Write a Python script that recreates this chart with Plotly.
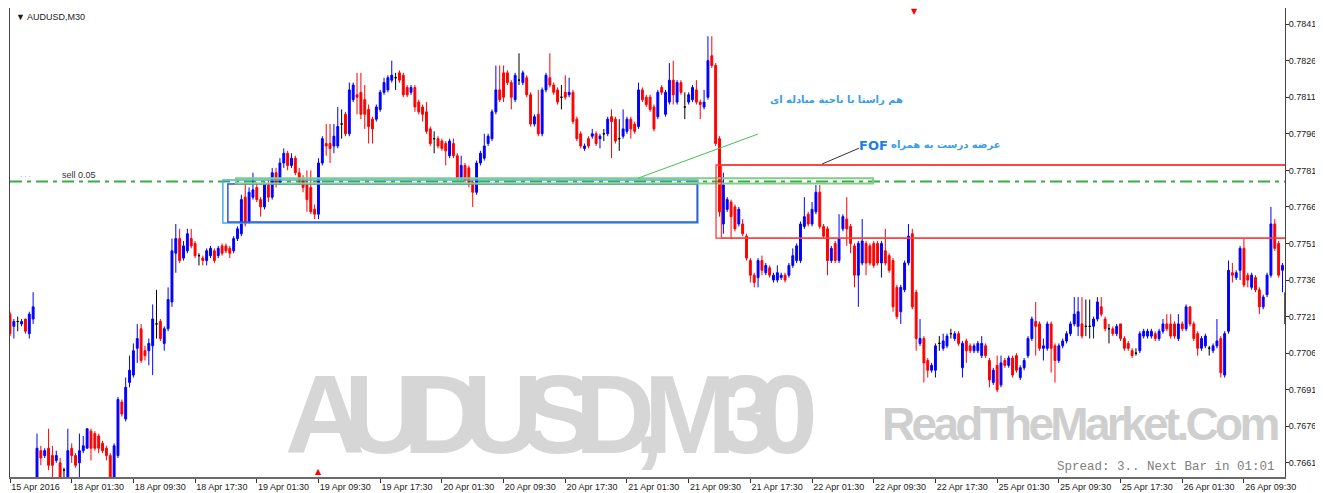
import plotly.graph_objects as go

# ---------------- data (AUDUSD M30, bar index 0..330) ----------------
opens = [
    0.7722, 0.7717, 0.7719, 0.7718, 0.7720, 0.7714, 0.7720, 0.7652, 0.7666, 0.7664,
    0.7667, 0.7664, 0.7662, 0.7661, 0.7658, 0.7655, 0.7667, 0.7664, 0.7661, 0.7666,
    0.7667, 0.7674, 0.7673, 0.7672, 0.7669, 0.7667, 0.7664, 0.7655, 0.7664, 0.7686,
    0.7679, 0.7694, 0.7697, 0.7708, 0.7716, 0.7707, 0.7707, 0.7709, 0.7718, 0.7719,
    0.7710, 0.7716, 0.7727, 0.7747, 0.7753, 0.7745, 0.7748, 0.7753, 0.7751, 0.7746,
    0.7745, 0.7744, 0.7746, 0.7748, 0.7746, 0.7750, 0.7750, 0.7749, 0.7748, 0.7753,
    0.7755, 0.7770, 0.7760, 0.7770, 0.7774, 0.7769, 0.7766, 0.7775, 0.7770, 0.7780,
    0.7776, 0.7784, 0.7788, 0.7783, 0.7786, 0.7780, 0.7777, 0.7775, 0.7774, 0.7765,
    0.7763, 0.7784, 0.7792, 0.7792, 0.7791, 0.7791, 0.7800, 0.7804, 0.7796, 0.7810,
    0.7812, 0.7813, 0.7810, 0.7806, 0.7802, 0.7802, 0.7806, 0.7813, 0.7814, 0.7818,
    0.7819, 0.7821, 0.7820, 0.7815, 0.7813, 0.7815, 0.7809, 0.7807, 0.7805, 0.7798,
    0.7794, 0.7794, 0.7793, 0.7792, 0.7787, 0.7792, 0.7787, 0.7778, 0.7783, 0.7782,
    0.7776, 0.7772, 0.7784, 0.7786, 0.7792, 0.7794, 0.7805, 0.7814, 0.7821, 0.7821,
    0.7817, 0.7810, 0.7818, 0.7817, 0.7819, 0.7812, 0.7800, 0.7804, 0.7796, 0.7814,
    0.7819, 0.7816, 0.7814, 0.7811, 0.7813, 0.7812, 0.7813, 0.7802, 0.7796, 0.7790,
    0.7794, 0.7795, 0.7796, 0.7794, 0.7796, 0.7796, 0.7803, 0.7802, 0.7794, 0.7795,
    0.7797, 0.7802, 0.7800, 0.7799, 0.7814, 0.7811, 0.7811, 0.7807, 0.7803, 0.7815,
    0.7804, 0.7809, 0.7818, 0.7809, 0.7817, 0.7807, 0.7809, 0.7810, 0.7814, 0.7809,
    0.7807, 0.7811, 0.7828, 0.7824, 0.7794, 0.7759, 0.7765, 0.7768, 0.7766, 0.7759,
    0.7759, 0.7754, 0.7744, 0.7738, 0.7737, 0.7744, 0.7739, 0.7741, 0.7736, 0.7736,
    0.7737, 0.7738, 0.7738, 0.7742, 0.7744, 0.7744, 0.7758, 0.7763, 0.7759, 0.7764,
    0.7772, 0.7758, 0.7757, 0.7744, 0.7751, 0.7744, 0.7757, 0.7761, 0.7758, 0.7750,
    0.7738, 0.7743, 0.7751, 0.7750, 0.7751, 0.7751, 0.7743, 0.7748, 0.7746, 0.7744,
    0.7733, 0.7723, 0.7732, 0.7743, 0.7755, 0.7731, 0.7710, 0.7712, 0.7703, 0.7699,
    0.7699, 0.7710, 0.7708, 0.7709, 0.7714, 0.7712, 0.7714, 0.7700, 0.7711, 0.7709,
    0.7707, 0.7707, 0.7705, 0.7709, 0.7703, 0.7694, 0.7701, 0.7693, 0.7703, 0.7701,
    0.7704, 0.7705, 0.7696, 0.7700, 0.7705, 0.7712, 0.7719, 0.7718, 0.7708, 0.7708,
    0.7718, 0.7709, 0.7703, 0.7709, 0.7711, 0.7714, 0.7718, 0.7717, 0.7718, 0.7717,
    0.7717, 0.7717, 0.7720, 0.7725, 0.7720, 0.7716, 0.7716, 0.7714, 0.7718, 0.7712,
    0.7710, 0.7707, 0.7706, 0.7707, 0.7713, 0.7713, 0.7713, 0.7714, 0.7712, 0.7715,
    0.7718, 0.7718, 0.7718, 0.7712, 0.7718, 0.7716, 0.7725, 0.7718, 0.7714, 0.7708,
    0.7709, 0.7708, 0.7707, 0.7709, 0.7712, 0.7697, 0.7715, 0.7739, 0.7737, 0.7740,
    0.7749, 0.7738, 0.7733, 0.7737, 0.7732, 0.7725, 0.7730, 0.7738, 0.7759, 0.7751,
    0.7740,
]
highs = [
    0.7723, 0.7720, 0.7721, 0.7720, 0.7720, 0.7723, 0.7731, 0.7673, 0.7668, 0.7667,
    0.7675, 0.7668, 0.7666, 0.7663, 0.7659, 0.7675, 0.7669, 0.7665, 0.7673, 0.7672,
    0.7675, 0.7675, 0.7674, 0.7673, 0.7670, 0.7668, 0.7665, 0.7669, 0.7688, 0.7687,
    0.7696, 0.7705, 0.7710, 0.7718, 0.7718, 0.7709, 0.7712, 0.7726, 0.7732, 0.7720,
    0.7717, 0.7733, 0.7753, 0.7759, 0.7757, 0.7752, 0.7757, 0.7757, 0.7752, 0.7747,
    0.7746, 0.7749, 0.7750, 0.7749, 0.7750, 0.7751, 0.7751, 0.7750, 0.7754, 0.7758,
    0.7771, 0.7776, 0.7774, 0.7780, 0.7776, 0.7770, 0.7776, 0.7777, 0.7782, 0.7782,
    0.7786, 0.7790, 0.7789, 0.7788, 0.7787, 0.7782, 0.7779, 0.7781, 0.7781, 0.7767,
    0.7786, 0.7795, 0.7800, 0.7800, 0.7800, 0.7807, 0.7806, 0.7805, 0.7817, 0.7817,
    0.7821, 0.7821, 0.7816, 0.7808, 0.7803, 0.7808, 0.7814, 0.7819, 0.7820, 0.7826,
    0.7821, 0.7822, 0.7821, 0.7816, 0.7816, 0.7816, 0.7810, 0.7808, 0.7809, 0.7799,
    0.7797, 0.7795, 0.7794, 0.7793, 0.7794, 0.7794, 0.7788, 0.7787, 0.7784, 0.7783,
    0.7777, 0.7785, 0.7789, 0.7796, 0.7796, 0.7806, 0.7824, 0.7824, 0.7824, 0.7822,
    0.7818, 0.7821, 0.7829, 0.7822, 0.7820, 0.7813, 0.7804, 0.7814, 0.7815, 0.7821,
    0.7829, 0.7817, 0.7815, 0.7816, 0.7820, 0.7819, 0.7814, 0.7803, 0.7797, 0.7792,
    0.7795, 0.7798, 0.7797, 0.7796, 0.7798, 0.7803, 0.7806, 0.7803, 0.7802, 0.7806,
    0.7803, 0.7803, 0.7801, 0.7817, 0.7815, 0.7812, 0.7812, 0.7808, 0.7814, 0.7816,
    0.7814, 0.7825, 0.7826, 0.7818, 0.7818, 0.7813, 0.7813, 0.7816, 0.7818, 0.7810,
    0.7814, 0.7836, 0.7836, 0.7825, 0.7795, 0.7780, 0.7770, 0.7769, 0.7767, 0.7766,
    0.7761, 0.7755, 0.7745, 0.7739, 0.7745, 0.7746, 0.7743, 0.7742, 0.7739, 0.7742,
    0.7739, 0.7739, 0.7743, 0.7749, 0.7751, 0.7760, 0.7770, 0.7764, 0.7768, 0.7775,
    0.7775, 0.7759, 0.7758, 0.7750, 0.7752, 0.7763, 0.7763, 0.7770, 0.7759, 0.7751,
    0.7752, 0.7761, 0.7752, 0.7751, 0.7752, 0.7752, 0.7752, 0.7757, 0.7747, 0.7745,
    0.7734, 0.7734, 0.7744, 0.7759, 0.7757, 0.7732, 0.7720, 0.7713, 0.7704, 0.7702,
    0.7710, 0.7713, 0.7714, 0.7714, 0.7716, 0.7715, 0.7715, 0.7711, 0.7712, 0.7710,
    0.7710, 0.7711, 0.7713, 0.7710, 0.7704, 0.7700, 0.7705, 0.7705, 0.7704, 0.7705,
    0.7705, 0.7706, 0.7701, 0.7704, 0.7713, 0.7721, 0.7727, 0.7719, 0.7712, 0.7719,
    0.7719, 0.7710, 0.7710, 0.7712, 0.7715, 0.7719, 0.7729, 0.7729, 0.7729, 0.7728,
    0.7728, 0.7721, 0.7729, 0.7729, 0.7721, 0.7718, 0.7717, 0.7718, 0.7718, 0.7713,
    0.7711, 0.7708, 0.7708, 0.7715, 0.7716, 0.7716, 0.7716, 0.7715, 0.7716, 0.7720,
    0.7722, 0.7722, 0.7719, 0.7722, 0.7719, 0.7726, 0.7725, 0.7719, 0.7715, 0.7713,
    0.7714, 0.7709, 0.7710, 0.7720, 0.7713, 0.7715, 0.7744, 0.7743, 0.7740, 0.7750,
    0.7753, 0.7739, 0.7739, 0.7738, 0.7733, 0.7730, 0.7739, 0.7766, 0.7761, 0.7752,
    0.7743,
]
lows = [
    0.7713, 0.7712, 0.7715, 0.7717, 0.7714, 0.7712, 0.7718, 0.7650, 0.7660, 0.7663,
    0.7658, 0.7654, 0.7661, 0.7652, 0.7655, 0.7654, 0.7661, 0.7659, 0.7655, 0.7665,
    0.7667, 0.7662, 0.7666, 0.7665, 0.7665, 0.7662, 0.7652, 0.7653, 0.7663, 0.7680,
    0.7678, 0.7692, 0.7696, 0.7702, 0.7702, 0.7703, 0.7701, 0.7697, 0.7712, 0.7711,
    0.7707, 0.7715, 0.7725, 0.7739, 0.7743, 0.7744, 0.7747, 0.7749, 0.7745, 0.7742,
    0.7742, 0.7742, 0.7745, 0.7743, 0.7745, 0.7746, 0.7747, 0.7745, 0.7747, 0.7752,
    0.7754, 0.7758, 0.7759, 0.7769, 0.7768, 0.7762, 0.7765, 0.7768, 0.7769, 0.7774,
    0.7775, 0.7782, 0.7781, 0.7782, 0.7779, 0.7775, 0.7772, 0.7764, 0.7763, 0.7761,
    0.7761, 0.7783, 0.7787, 0.7784, 0.7788, 0.7790, 0.7794, 0.7795, 0.7795, 0.7809,
    0.7804, 0.7802, 0.7798, 0.7792, 0.7792, 0.7801, 0.7805, 0.7812, 0.7813, 0.7817,
    0.7814, 0.7817, 0.7811, 0.7811, 0.7812, 0.7805, 0.7804, 0.7801, 0.7796, 0.7791,
    0.7788, 0.7790, 0.7789, 0.7783, 0.7786, 0.7786, 0.7777, 0.7777, 0.7776, 0.7774,
    0.7766, 0.7771, 0.7783, 0.7785, 0.7791, 0.7793, 0.7804, 0.7809, 0.7809, 0.7816,
    0.7806, 0.7809, 0.7816, 0.7816, 0.7811, 0.7799, 0.7799, 0.7795, 0.7795, 0.7813,
    0.7815, 0.7812, 0.7808, 0.7806, 0.7810, 0.7811, 0.7800, 0.7793, 0.7790, 0.7789,
    0.7790, 0.7794, 0.7791, 0.7790, 0.7793, 0.7795, 0.7786, 0.7792, 0.7789, 0.7794,
    0.7796, 0.7794, 0.7796, 0.7798, 0.7809, 0.7807, 0.7805, 0.7797, 0.7802, 0.7812,
    0.7803, 0.7808, 0.7808, 0.7808, 0.7812, 0.7802, 0.7808, 0.7809, 0.7808, 0.7802,
    0.7806, 0.7810, 0.7823, 0.7791, 0.7762, 0.7755, 0.7764, 0.7753, 0.7756, 0.7758,
    0.7754, 0.7744, 0.7735, 0.7733, 0.7733, 0.7738, 0.7738, 0.7737, 0.7735, 0.7735,
    0.7736, 0.7735, 0.7737, 0.7741, 0.7743, 0.7743, 0.7757, 0.7758, 0.7758, 0.7763,
    0.7757, 0.7753, 0.7738, 0.7743, 0.7743, 0.7743, 0.7756, 0.7750, 0.7747, 0.7733,
    0.7725, 0.7742, 0.7738, 0.7742, 0.7741, 0.7742, 0.7737, 0.7742, 0.7739, 0.7723,
    0.7720, 0.7718, 0.7731, 0.7742, 0.7724, 0.7707, 0.7709, 0.7694, 0.7696, 0.7698,
    0.7696, 0.7707, 0.7707, 0.7708, 0.7712, 0.7711, 0.7709, 0.7696, 0.7702, 0.7706,
    0.7706, 0.7706, 0.7704, 0.7704, 0.7692, 0.7693, 0.7690, 0.7692, 0.7700, 0.7700,
    0.7696, 0.7698, 0.7695, 0.7699, 0.7704, 0.7711, 0.7705, 0.7707, 0.7703, 0.7707,
    0.7698, 0.7694, 0.7702, 0.7708, 0.7710, 0.7713, 0.7717, 0.7713, 0.7712, 0.7713,
    0.7712, 0.7712, 0.7719, 0.7721, 0.7715, 0.7710, 0.7713, 0.7713, 0.7711, 0.7707,
    0.7707, 0.7704, 0.7705, 0.7706, 0.7712, 0.7712, 0.7712, 0.7711, 0.7711, 0.7714,
    0.7715, 0.7712, 0.7712, 0.7711, 0.7715, 0.7715, 0.7717, 0.7711, 0.7705, 0.7707,
    0.7708, 0.7705, 0.7706, 0.7708, 0.7696, 0.7696, 0.7714, 0.7735, 0.7736, 0.7736,
    0.7733, 0.7733, 0.7732, 0.7731, 0.7722, 0.7724, 0.7729, 0.7737, 0.7748, 0.7737,
    0.7731,
]
closes = [
    0.7714, 0.7719, 0.7719, 0.7719, 0.7715, 0.7722, 0.7725, 0.7667, 0.7663, 0.7666,
    0.7660, 0.7660, 0.7664, 0.7654, 0.7658, 0.7666, 0.7664, 0.7660, 0.7666, 0.7668,
    0.7675, 0.7667, 0.7667, 0.7667, 0.7666, 0.7664, 0.7654, 0.7668, 0.7687, 0.7681,
    0.7692, 0.7699, 0.7707, 0.7712, 0.7703, 0.7705, 0.7710, 0.7720, 0.7718, 0.7712,
    0.7716, 0.7728, 0.7748, 0.7753, 0.7744, 0.7750, 0.7755, 0.7750, 0.7746, 0.7746,
    0.7744, 0.7748, 0.7749, 0.7744, 0.7749, 0.7747, 0.7748, 0.7747, 0.7753, 0.7757,
    0.7769, 0.7759, 0.7772, 0.7773, 0.7769, 0.7766, 0.7775, 0.7770, 0.7780, 0.7776,
    0.7784, 0.7788, 0.7783, 0.7786, 0.7780, 0.7777, 0.7774, 0.7769, 0.7764, 0.7763,
    0.7784, 0.7794, 0.7791, 0.7790, 0.7795, 0.7799, 0.7800, 0.7796, 0.7814, 0.7816,
    0.7811, 0.7804, 0.7804, 0.7799, 0.7798, 0.7807, 0.7813, 0.7817, 0.7819, 0.7820,
    0.7819, 0.7818, 0.7812, 0.7812, 0.7815, 0.7807, 0.7805, 0.7804, 0.7797, 0.7792,
    0.7794, 0.7791, 0.7790, 0.7789, 0.7793, 0.7787, 0.7778, 0.7783, 0.7777, 0.7776,
    0.7772, 0.7784, 0.7788, 0.7791, 0.7795, 0.7805, 0.7814, 0.7810, 0.7811, 0.7817,
    0.7811, 0.7820, 0.7818, 0.7821, 0.7812, 0.7800, 0.7803, 0.7796, 0.7814, 0.7820,
    0.7816, 0.7813, 0.7809, 0.7811, 0.7811, 0.7813, 0.7801, 0.7794, 0.7791, 0.7791,
    0.7791, 0.7796, 0.7792, 0.7795, 0.7796, 0.7802, 0.7801, 0.7793, 0.7794, 0.7798,
    0.7802, 0.7798, 0.7797, 0.7814, 0.7810, 0.7808, 0.7806, 0.7798, 0.7813, 0.7813,
    0.7813, 0.7818, 0.7812, 0.7817, 0.7813, 0.7807, 0.7812, 0.7815, 0.7809, 0.7808,
    0.7809, 0.7826, 0.7824, 0.7792, 0.7764, 0.7775, 0.7769, 0.7762, 0.7757, 0.7765,
    0.7755, 0.7745, 0.7738, 0.7735, 0.7744, 0.7740, 0.7742, 0.7738, 0.7738, 0.7739,
    0.7738, 0.7736, 0.7742, 0.7746, 0.7750, 0.7759, 0.7762, 0.7759, 0.7765, 0.7772,
    0.7758, 0.7754, 0.7744, 0.7749, 0.7744, 0.7753, 0.7762, 0.7757, 0.7751, 0.7738,
    0.7751, 0.7752, 0.7743, 0.7743, 0.7742, 0.7743, 0.7751, 0.7743, 0.7740, 0.7725,
    0.7721, 0.7733, 0.7743, 0.7754, 0.7725, 0.7712, 0.7712, 0.7702, 0.7699, 0.7701,
    0.7709, 0.7710, 0.7711, 0.7713, 0.7714, 0.7714, 0.7710, 0.7710, 0.7707, 0.7707,
    0.7709, 0.7710, 0.7710, 0.7705, 0.7695, 0.7699, 0.7691, 0.7702, 0.7701, 0.7704,
    0.7697, 0.7699, 0.7700, 0.7703, 0.7712, 0.7720, 0.7717, 0.7708, 0.7709, 0.7718,
    0.7708, 0.7703, 0.7709, 0.7711, 0.7714, 0.7718, 0.7722, 0.7723, 0.7713, 0.7717,
    0.7717, 0.7720, 0.7727, 0.7722, 0.7716, 0.7716, 0.7714, 0.7717, 0.7712, 0.7708,
    0.7708, 0.7705, 0.7706, 0.7714, 0.7715, 0.7715, 0.7715, 0.7712, 0.7715, 0.7718,
    0.7716, 0.7713, 0.7713, 0.7718, 0.7716, 0.7725, 0.7718, 0.7712, 0.7708, 0.7712,
    0.7713, 0.7708, 0.7709, 0.7711, 0.7698, 0.7714, 0.7740, 0.7738, 0.7739, 0.7749,
    0.7734, 0.7736, 0.7738, 0.7732, 0.7725, 0.7729, 0.7738, 0.7759, 0.7749, 0.7738,
    0.7742,
]
bars = list(range(len(closes)))

time_ticks = list(range(0, 321, 16))
time_labels = [
    "15 Apr 2016", "18 Apr 01:30", "18 Apr 09:30", "18 Apr 17:30", "19 Apr 01:30",
    "19 Apr 09:30", "19 Apr 17:30", "20 Apr 01:30", "20 Apr 09:30", "20 Apr 17:30",
    "21 Apr 01:30", "21 Apr 09:30", "21 Apr 17:30", "22 Apr 01:30", "22 Apr 09:30",
    "22 Apr 17:30", "25 Apr 01:30", "25 Apr 09:30", "25 Apr 17:30", "26 Apr 01:30",
    "26 Apr 09:30",
]
price_ticks = [0.7841, 0.7826, 0.7811, 0.7796, 0.7781, 0.7766, 0.7751,
               0.7736, 0.7721, 0.7706, 0.7691, 0.7676, 0.7661]

# levels / zones (price) used by the drawn objects
sell_level = 0.77764
zone_green = (58.6, 223.8, 0.77756, 0.77778)
zone_cyan = (55.2, 178.4, 0.77594, 0.77770)
zone_blue = (56.5, 178.2, 0.77598, 0.77754)
zone_red_top, zone_red_bottom = 0.77832, 0.77532
current_bar = ([331, 331], [0.7731, 0.7718])

# ---------------- figure ----------------
BLUE, RED, BLACK = "#0000ff", "#ff0000", "#000000"


def candle_group(idx, color):
    return go.Candlestick(
        x=[bars[i] for i in idx],
        open=[opens[i] for i in idx],
        high=[highs[i] for i in idx],
        low=[lows[i] for i in idx],
        close=[closes[i] for i in idx],
        increasing=dict(line=dict(color=color, width=1), fillcolor=color),
        decreasing=dict(line=dict(color=color, width=1), fillcolor=color),
        whiskerwidth=0,
        hoverinfo="skip",
        showlegend=False,
    )


up = [i for i in bars if closes[i] > opens[i]]
dn = [i for i in bars if closes[i] < opens[i]]
dj = [i for i in bars if closes[i] == opens[i]]

fig = go.Figure()
fig.add_trace(candle_group(up, BLUE))
fig.add_trace(candle_group(dn, RED))
fig.add_trace(candle_group(dj, BLACK))
fig.add_trace(go.Scatter(x=current_bar[0], y=current_bar[1], mode="lines",
                         line=dict(color="black", width=4), cliponaxis=False,
                         hoverinfo="skip", showlegend=False))

shapes = []
shapes.append(dict(type="line", xref="paper", x0=0, x1=1, yref="y",
                   y0=sell_level, y1=sell_level, layer="below",
                   line=dict(color="#3daa4a", width=2, dash="12px,5px,4px,5px")))
shapes.append(dict(type="rect", xref="x", yref="y", x0=zone_cyan[0], x1=zone_cyan[1],
                   y0=zone_cyan[2], y1=zone_cyan[3], line=dict(color="#49ade6", width=1.5)))
shapes.append(dict(type="rect", xref="x", yref="y", x0=zone_blue[0], x1=zone_blue[1],
                   y0=zone_blue[2], y1=zone_blue[3], line=dict(color="#3152d8", width=1.5)))
shapes.append(dict(type="rect", xref="x", yref="y", x0=zone_green[0], x1=zone_green[1],
                   y0=zone_green[2], y1=zone_green[3], line=dict(color="#7fcf86", width=2)))
shapes.append(dict(type="line", xref="x", yref="y", x0=162.9, y0=0.77778, x1=194.0, y1=0.77959,
                   line=dict(color="#45c24f", width=1)))
for x0 in (183.1, 184.5):
    shapes.append(dict(type="rect", xref="x", yref="y", x0=x0, x1=345,
                       y0=zone_red_bottom, y1=zone_red_top,
                       line=dict(color="#ff3b3b", width=1.3)))
shapes.append(dict(type="line", xref="x", yref="y", x0=210.6, y0=0.77836, x1=220.2, y1=0.77901,
                   line=dict(color="#333333", width=1)))

WM_FONT = "Liberation Sans, Arial, sans-serif"
ann = []
ann.append(dict(xref="paper", yref="paper", x=0.003, y=0.981, text="▼ AUDUSD,M30",
                showarrow=False, xanchor="left", yanchor="middle",
                font=dict(family="Liberation Sans, Arial", size=9, color="#1a1a1a")))
ann.append(dict(xref="paper", yref="paper", x=0.039, y=0.643, text="sell 0.05",
                showarrow=False, xanchor="left", yanchor="middle",
                font=dict(family="Liberation Sans, Arial", size=9, color="#333333")))
ann.append(dict(xref="paper", yref="paper", x=0.006, y=0.640, text="· · ·",
                showarrow=False, xanchor="left", yanchor="middle",
                font=dict(family="Liberation Sans, Arial", size=7, color="#888888")))
ann.append(dict(xref="paper", yref="paper", x=0.6486, y=0.8038, text="هم راستا با ناحیة مبادله ای",
                showarrow=False, xanchor="center", yanchor="middle",
                font=dict(family="DejaVu Sans", size=10, color="#3b9de6", weight="bold")))
ann.append(dict(xref="paper", yref="paper", x=0.6640, y=0.7058, text="<b>FOF</b>",
                showarrow=False, xanchor="left", yanchor="middle",
                font=dict(family="DejaVu Sans", size=13, color="#1d7fe0")))
ann.append(dict(xref="paper", yref="paper", x=0.7790, y=0.7079, text="عرضه درست به همراه",
                showarrow=False, xanchor="right", yanchor="middle",
                font=dict(family="DejaVu Sans", size=10, color="#3b9de6", weight="bold")))
# watermarks
ann.append(dict(xref="paper", yref="paper", x=0.4235, y=0.132,
                text="<span style='letter-spacing:-21px'><b>AUDUSD,M30</b></span>",
                showarrow=False, xanchor="center", yanchor="middle",
                font=dict(family=WM_FONT, size=111, color="#d6d6d6")))
ann.append(dict(xref="paper", yref="paper", x=0.8392, y=0.112,
                text="<span style='letter-spacing:-3.7px'><b>ReadTheMarket.Com</b></span>",
                showarrow=False, xanchor="center", yanchor="middle",
                font=dict(family=WM_FONT, size=46, color="#cfcfcf")))
ann.append(dict(xref="paper", yref="paper", x=0.9937, y=0.0213, text="Spread: 3.. Next Bar in 01:01",
                showarrow=False, xanchor="right", yanchor="middle",
                font=dict(family="Liberation Mono, Courier New, monospace", size=12.5, color="#808080")))
ann.append(dict(xref="paper", yref="paper", x=0.7098, y=1.0, text="▼",
                showarrow=False, xanchor="center", yanchor="top", yshift=3,
                font=dict(family="DejaVu Sans", size=8, color="#ff0000")))
ann.append(dict(xref="paper", yref="paper", x=0.2416, y=0.0, text="▲",
                showarrow=False, xanchor="center", yanchor="bottom", yshift=-1,
                font=dict(family="DejaVu Sans", size=8, color="#ff0000")))

# The page body adds an 8px offset, so the figure is sized to end at the window edge.
fig.update_layout(
    width=1315, height=485,
    margin=dict(l=2, r=38, t=0, b=16, autoexpand=False),
    paper_bgcolor="white", plot_bgcolor="white",
    shapes=shapes, annotations=ann,
    showlegend=False,
    xaxis=dict(range=[0, 330.65], rangeslider=dict(visible=False),
               tickvals=time_ticks, ticktext=time_labels,
               ticks="outside", ticklen=4, tickcolor="#333",
               ticklabelposition="outside right", automargin=False,
               tickfont=dict(family="Liberation Sans, Arial", size=9, color="#1a1a1a"),
               showgrid=False, zeroline=False, showline=True, linecolor="#6a6a6a",
               linewidth=1.5, mirror=True, fixedrange=True),
    yaxis=dict(range=[0.76552, 0.78476], side="right", automargin=False,
               tickvals=price_ticks, tickformat=".4f",
               ticks="outside", ticklen=3, tickcolor="#333",
               ticklabelstandoff=-2, ticklabeloverflow="allow",
               tickfont=dict(family="Liberation Sans, Arial", size=9, color="#1a1a1a"),
               showgrid=False, zeroline=False, showline=True, linecolor="#444444",
               linewidth=1, mirror=True, fixedrange=True),
)

fig.write_html("out.html")
